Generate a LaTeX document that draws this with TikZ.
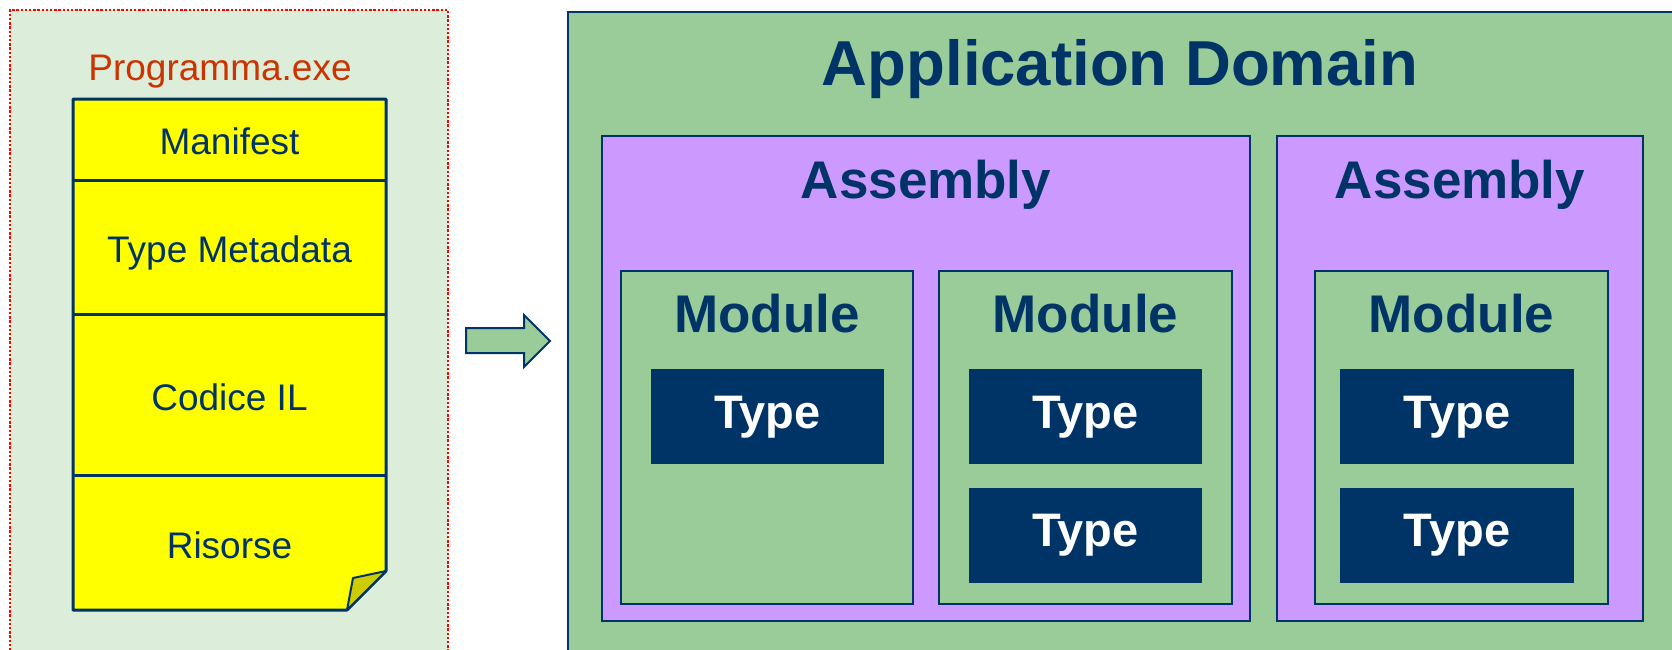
\documentclass[tikz,border=0pt]{standalone}
\usepackage{fontspec}
\setmainfont{Liberation Sans}
\usetikzlibrary{fit}
\definecolor{navy}{RGB}{0,51,102}
\definecolor{boxgreen}{RGB}{153,204,153}
\definecolor{boxpurple}{RGB}{204,153,255}
\definecolor{exeyellow}{RGB}{255,255,0}
\definecolor{foldyellow}{RGB}{204,204,0}
\definecolor{exered}{RGB}{204,51,0}
\definecolor{panelgreen}{RGB}{220,237,217}
\definecolor{dotred}{RGB}{255,0,0}
\tikzset{
  frame/.style={inner sep=0pt, outer sep=0pt},
  domainbox/.style={frame, draw=navy, line width=2.5pt, fill=boxgreen},
  asmbox/.style={frame, draw=navy, line width=2.5pt, fill=boxpurple},
  modbox/.style={frame, draw=navy, line width=2.5pt, fill=boxgreen},
  typebox/.style={frame, fill=navy},
  bigtitle/.style={anchor=base, text=navy, font=\fontsize{63.5}{70}\selectfont\bfseries, inner sep=0pt},
  midtitle/.style={anchor=base, text=navy, font=\fontsize{53}{60}\selectfont\bfseries, inner sep=0pt},
  typetext/.style={anchor=base, text=white, font=\fontsize{47}{54}\selectfont\bfseries, inner sep=0pt},
  exetext/.style={anchor=base, text=navy, font=\fontsize{37}{42}\selectfont, inner sep=0pt},
}
\begin{document}
\begin{tikzpicture}[x=1pt,y=-1pt]
\useasboundingbox (0,0) rectangle (1672,649);
\fill[white] (0,0) rectangle (1672,649);

% left panel
\node[frame, fill=panelgreen, draw=dotred, line width=2.6pt, dash pattern=on 2.4pt off 1.8pt,
      fit={(10,10) (448,680)}] (panel) {};
\node[anchor=base, text=exered, font=\fontsize{37}{42}\selectfont, inner sep=0pt] (exename) at (220,80) {Programma.exe};

% yellow stack
\coordinate (ytl) at (73,99);
\coordinate (ytr) at (386,99);
\coordinate (yfr) at (386,571);
\coordinate (yfb) at (347,610);
\coordinate (ybl) at (73,610);
\coordinate (yfi) at (353,578);
\filldraw[fill=exeyellow, draw=navy, line width=3pt, line join=round]
  (ytl) -- (ytr) -- (yfr) -- (yfb) -- (ybl) -- cycle;
\draw[navy, line width=3pt] (73,180) -- (386,180);
\draw[navy, line width=3pt] (73,314) -- (386,314);
\draw[navy, line width=3pt] (73,475) -- (386,475);
\filldraw[fill=foldyellow, draw=navy, line width=2pt, line join=round]
  (yfr) -- (yfi) -- (yfb) -- cycle;
\node[exetext] (manifest) at (229.5,154) {Manifest};
\node[exetext] (typemeta) at (229.5,262) {Type Metadata};
\node[exetext] (codice) at (229.5,410) {Codice IL};
\node[exetext] (risorse) at (229.5,558) {Risorse};

% block arrow
\filldraw[fill=boxgreen, draw=navy, line width=2pt, line join=miter]
  (466,328) -- (524,328) -- (524,315) -- (550,341) -- (524,367) -- (524,353) -- (466,353) -- cycle;

% application domain
\node[domainbox, fit={(568,12) (1700,680)}] (domain) {};
\node[bigtitle] (domaintitle) at (1120,85) {Application Domain};

% assembly 1
\node[asmbox, fit={(602,136) (1250,621)}] (asm1) {};
\node[midtitle] (asm1title) at (926,198) {Assembly};
\node[modbox, fit={(621,271) (913,604)}] (mod1) {};
\node[midtitle] (mod1title) at (767,332) {Module};
\node[typebox, fit={(651,369) (884,464)}] (t11) {};
\node[typetext] (t11text) at (767.5,428) {Type};

\node[modbox, fit={(939,271) (1232,604)}] (mod2) {};
\node[midtitle] (mod2title) at (1085.5,332) {Module};
\node[typebox, fit={(969,369) (1202,464)}] (t21) {};
\node[typetext] (t21text) at (1085.5,428) {Type};
\node[typebox, fit={(969,488) (1202,583)}] (t22) {};
\node[typetext] (t22text) at (1085.5,546) {Type};

% assembly 2
\node[asmbox, fit={(1277,136) (1643,621)}] (asm2) {};
\node[midtitle] (asm2title) at (1460,198) {Assembly};
\node[modbox, fit={(1315,271) (1608,604)}] (mod3) {};
\node[midtitle] (mod3title) at (1461.5,332) {Module};
\node[typebox, fit={(1340,369) (1574,464)}] (t31) {};
\node[typetext] (t31text) at (1457,428) {Type};
\node[typebox, fit={(1340,488) (1574,583)}] (t32) {};
\node[typetext] (t32text) at (1457,546) {Type};
\end{tikzpicture}
\end{document}
